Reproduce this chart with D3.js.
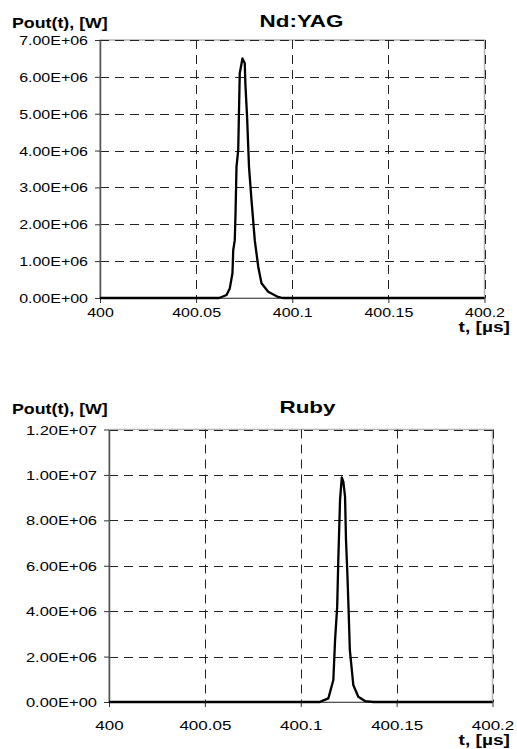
<!DOCTYPE html>
<html>
<head>
<meta charset="utf-8">
<script src="https://cdn.jsdelivr.net/npm/d3@7"></script>
<style>
  body { margin: 0; background: #fff; }
  svg { display: block; }
  text { font-family: "Liberation Sans", Arial, sans-serif; fill: #000; }
</style>
</head>
<body>
<svg id="chart" width="517" height="749"></svg>
<script>
// time axis, shared by both panels
const timeTicks  = [400, 400.05, 400.1, 400.15, 400.2];
const timeLabels = ["400", "400.05", "400.1", "400.15", "400.2"];

// Nd:YAG pulse
const ndyagTime  = [400, 400.062, 400.0658, 400.0675, 400.0689, 400.0693, 400.0701, 400.0705, 400.0710,
                    400.0719, 400.0724, 400.0727, 400.0741, 400.0753, 400.0756, 400.0765, 400.0775,
                    400.0788, 400.0805, 400.0823, 400.0840, 400.0875, 400.0926, 400.095, 400.2];
const ndyagPower = [0, 0, 0.08e6, 0.26e6, 0.67e6, 1.30e6, 1.57e6, 2.30e6, 3.56e6,
                    4.02e6, 5.33e6, 6.10e6, 6.50e6, 6.37e6, 5.83e6, 4.92e6, 3.56e6,
                    2.66e6, 1.57e6, 0.85e6, 0.40e6, 0.17e6, 0.03e6, 0, 0];
const ndyagTicks = [0, 1e6, 2e6, 3e6, 4e6, 5e6, 6e6, 7e6];

// Ruby pulse
const rubyTime  = [400, 400.110, 400.1109, 400.1144, 400.1170, 400.1179, 400.1190, 400.1196, 400.1205,
                   400.1214, 400.1222, 400.1231, 400.1236, 400.1243, 400.1249, 400.1256, 400.1274,
                   400.1300, 400.1335, 400.138, 400.2];
const rubyPower = [0, 0, 0.04e6, 0.16e6, 0.97e6, 2.73e6, 4.2e6, 6.3e6, 8.9e6,
                   9.89e6, 9.70e6, 9.04e6, 7.13e6, 5.67e6, 4.2e6, 2.3e6, 0.75e6,
                   0.23e6, 0.04e6, 0, 0];
const rubyTicks = [0, 2e6, 4e6, 6e6, 8e6, 10e6, 12e6];

const svg = d3.select("#chart");
const sx = 1.25;   // the original text is horizontally stretched

function sciFormat(d) {
  const [m, e] = d.toExponential(2).split("e");
  return m + "E" + e[0] + e.slice(1).padStart(2, "0");
}

function drawPanel(o) {
  const g = svg.append("g");
  const x = d3.scaleLinear().domain([400, 400.2]).range([o.left, o.right]);
  const y = d3.scaleLinear().domain([0, d3.max(o.yTicks)]).range([o.bottom, o.top]);

  // plot area border (grey), dashed grid over it
  g.append("rect")
    .attr("x", o.left).attr("y", o.top)
    .attr("width", o.right - o.left).attr("height", o.bottom - o.top)
    .attr("fill", "none").attr("stroke", "#b4b4b4").attr("stroke-width", 1.5);

  g.selectAll(".hgrid").data(o.yTicks.filter(d => d > 0)).join("line")
    .attr("x1", o.left).attr("x2", o.right)
    .attr("y1", d => Math.round(y(d)) + 0.5).attr("y2", d => Math.round(y(d)) + 0.5)
    .attr("stroke", "#222").attr("stroke-dasharray", "9,6");

  g.selectAll(".vgrid").data(timeTicks.slice(1)).join("line")
    .attr("y1", o.top).attr("y2", o.bottom)
    .attr("x1", d => Math.round(x(d)) + 0.5).attr("x2", d => Math.round(x(d)) + 0.5)
    .attr("stroke", "#222").attr("stroke-dasharray", "9,6");

  // y axis
  const ya = g.append("g")
    .attr("transform", `translate(${o.left},0)`)
    .call(d3.axisLeft(y).tickValues(o.yTicks).tickSize(5).tickSizeOuter(0).tickFormat(sciFormat));
  ya.attr("font-family", null).attr("font-size", null);
  ya.select(".domain").attr("stroke", "#555").attr("stroke-width", 1.5);
  ya.selectAll(".tick line").attr("stroke", "#333");
  ya.selectAll(".tick text")
    .attr("font-size", o.yFont)
    .attr("x", -12 / sx).attr("dy", "0.35em")
    .attr("transform", `scale(${sx},1)`);

  // x axis
  const xa = g.append("g")
    .attr("transform", `translate(0,${o.bottom})`)
    .call(d3.axisBottom(x).tickValues(timeTicks).tickSize(5).tickSizeOuter(0)
      .tickFormat((d, i) => timeLabels[i]));
  xa.attr("font-family", null).attr("font-size", null);
  xa.select(".domain").attr("stroke", "#555");
  xa.selectAll(".tick line").attr("stroke", "#333");
  xa.selectAll(".tick text")
    .attr("font-size", o.xFont)
    .attr("y", o.xLabelOffset).attr("dy", null)
    .attr("transform", `scale(${sx},1)`);

  // pulse
  const pts = o.times.map((t, i) => [t, o.powers[i]]);
  g.append("path")
    .datum(pts)
    .attr("fill", "none").attr("stroke", "#000").attr("stroke-width", 2.3)
    .attr("stroke-linejoin", "round")
    .attr("d", d3.line().x(d => x(d[0])).y(d => y(d[1])));

  // titles
  g.append("text")
    .attr("transform", `translate(${o.titleX},${o.titleY}) scale(1.36,1)`)
    .attr("text-anchor", "middle").attr("font-weight", "bold").attr("font-size", 16.5)
    .text(o.title);
  g.append("text")
    .attr("transform", `translate(12,${o.titleY + 1}) scale(1.27,1)`)
    .attr("font-weight", "bold").attr("font-size", 14)
    .text("Pout(t), [W]");
  g.append("text")
    .attr("transform", `translate(510,${o.unitY}) scale(1.32,1)`)
    .attr("text-anchor", "end").attr("font-weight", "bold").attr("font-size", 14.5)
    .text("t, [µs]");
}

drawPanel({
  title: "Nd:YAG", times: ndyagTime, powers: ndyagPower, yTicks: ndyagTicks,
  left: 100, right: 484.5, top: 40, bottom: 298,
  titleX: 301.5, titleY: 27, unitY: 332,
  yFont: 12.8, xFont: 12.8, xLabelOffset: 19.5
});

drawPanel({
  title: "Ruby", times: rubyTime, powers: rubyPower, yTicks: rubyTicks,
  left: 109, right: 492.5, top: 429.5, bottom: 702,
  titleX: 307.5, titleY: 413, unitY: 745,
  yFont: 13.2, xFont: 13.6, xLabelOffset: 28
});
</script>
</body>
</html>
